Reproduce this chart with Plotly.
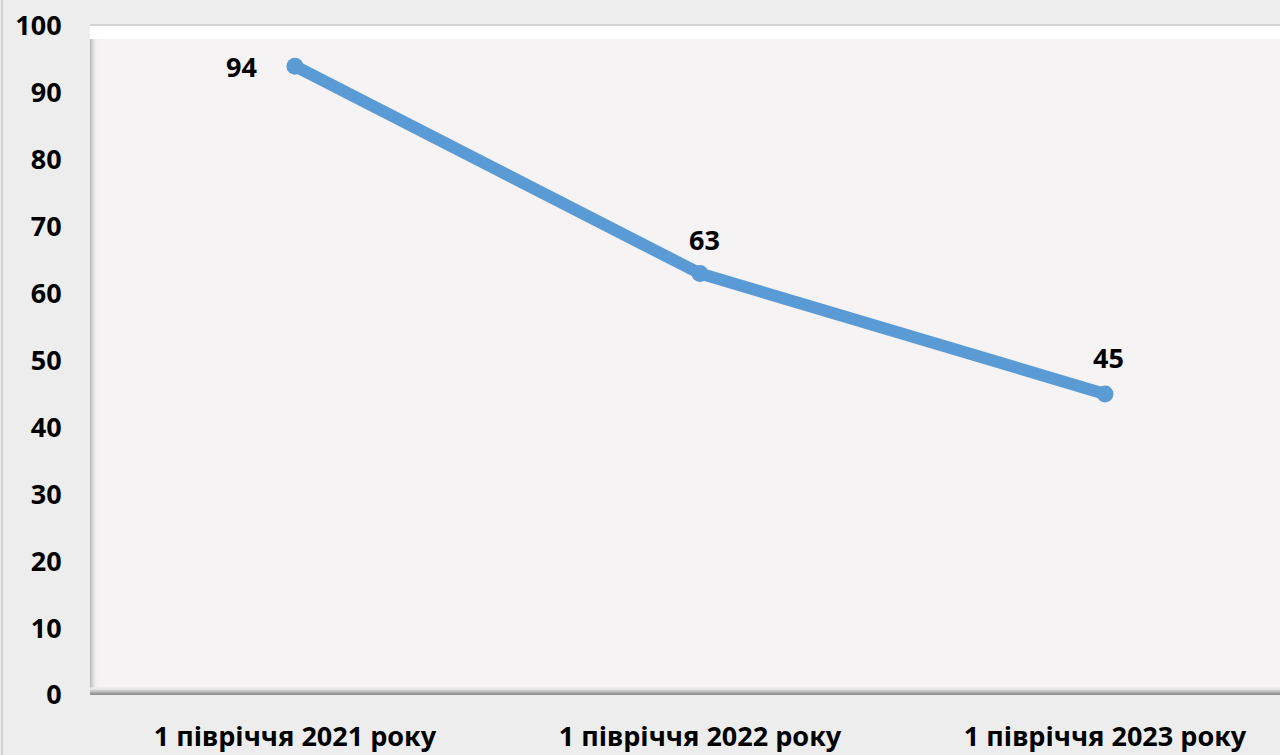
import plotly.graph_objects as go

categories = ["1 півріччя 2021 року", "1 півріччя 2022 року", "1 півріччя 2023 року"]
values = [94, 63, 45]
y_ticks = [0, 10, 20, 30, 40, 50, 60, 70, 80, 90, 100]

FONT = "Noto Sans"
LINE = "#5B9BD5"
FS = 27

fig = go.Figure()
fig.add_trace(go.Scatter(
    x=list(range(len(categories))), y=values, mode="lines+markers",
    line=dict(color=LINE, width=12),
    marker=dict(color=LINE, size=17),
    hoverinfo="skip", showlegend=False, cliponaxis=False,
))

shifts = [(-53, 0), (5, 34), (3, 36)]
for i, v in enumerate(values):
    fig.add_annotation(x=i, y=v, text=f"<b>{v}</b>", showarrow=False,
                       xshift=shifts[i][0], yshift=shifts[i][1],
                       font=dict(family=FONT, size=FS, color="#000000"))

shapes = []
# left shadow gradient
left_cols = ["#BDBDBD", "#CACACA", "#D6D6D6", "#E0E0E0", "#E8E8E8", "#EEEEEE", "#F2F1F2"]
for k, c in enumerate(left_cols):
    shapes.append(dict(type="rect", xref="paper", yref="paper", xsizemode="pixel", xanchor=0,
                       x0=k, x1=k + 1.5, y0=0, y1=1, line=dict(width=0), fillcolor=c, layer="below"))
# top white band
shapes.append(dict(type="rect", xref="paper", yref="paper", ysizemode="pixel", yanchor=1,
                   x0=0, x1=1, y0=0, y1=-13, line=dict(width=0), fillcolor="#FFFFFF", layer="below"))
shapes.append(dict(type="rect", xref="paper", yref="paper", ysizemode="pixel", yanchor=1,
                   x0=0, x1=1, y0=0, y1=2, line=dict(width=0), fillcolor="#D4D4D4", layer="below"))
# bottom dark band gradient
bot_cols = ["#8E8E8E", "#9C9C9C", "#ABABAB", "#BDBDBD", "#CFCFCF", "#E0E0E0", "#ECEBEC"]
for k, c in enumerate(bot_cols):
    shapes.append(dict(type="rect", xref="paper", yref="paper", ysizemode="pixel", yanchor=0,
                       x0=0, x1=1, y0=k, y1=k + 1.5, line=dict(width=0), fillcolor=c, layer="below"))
# outer left border line
shapes.append(dict(type="line", xref="paper", yref="paper", xsizemode="pixel", xanchor=0,
                   x0=-88, x1=-88, y0=-0.2, y1=1.2, line=dict(width=2, color="#D0D0D0")))

fig.update_layout(
    width=1280, height=755,
    margin=dict(l=90, r=0, t=26, b=60, autoexpand=False),
    paper_bgcolor="#EDEDED", plot_bgcolor="#F5F3F4",
    font=dict(family=FONT, size=FS, color="#000000"),
    shapes=shapes,
    xaxis=dict(
        tickmode="array", tickvals=list(range(len(categories))),
        ticktext=[f"<b>{c}</b>" for c in categories],
        range=[-0.506, 2.432], showgrid=False, zeroline=False, showline=False,
        ticks="outside", ticklen=18, tickcolor="rgba(0,0,0,0)", automargin=False,
        tickfont=dict(family=FONT, size=FS, color="#000000"),
    ),
    yaxis=dict(
        tickmode="array", tickvals=y_ticks, ticktext=[f"<b>{t}</b>" for t in y_ticks],
        range=[0, 100], showgrid=False, zeroline=False, showline=False,
        ticks="outside", ticklen=22, tickcolor="rgba(0,0,0,0)", automargin=False,
        tickfont=dict(family=FONT, size=FS, color="#000000"),
    ),
)

fig.write_html("out.html", config={"displayModeBar": False},
               post_script="document.body.style.margin='0';document.body.style.overflow='hidden';")
